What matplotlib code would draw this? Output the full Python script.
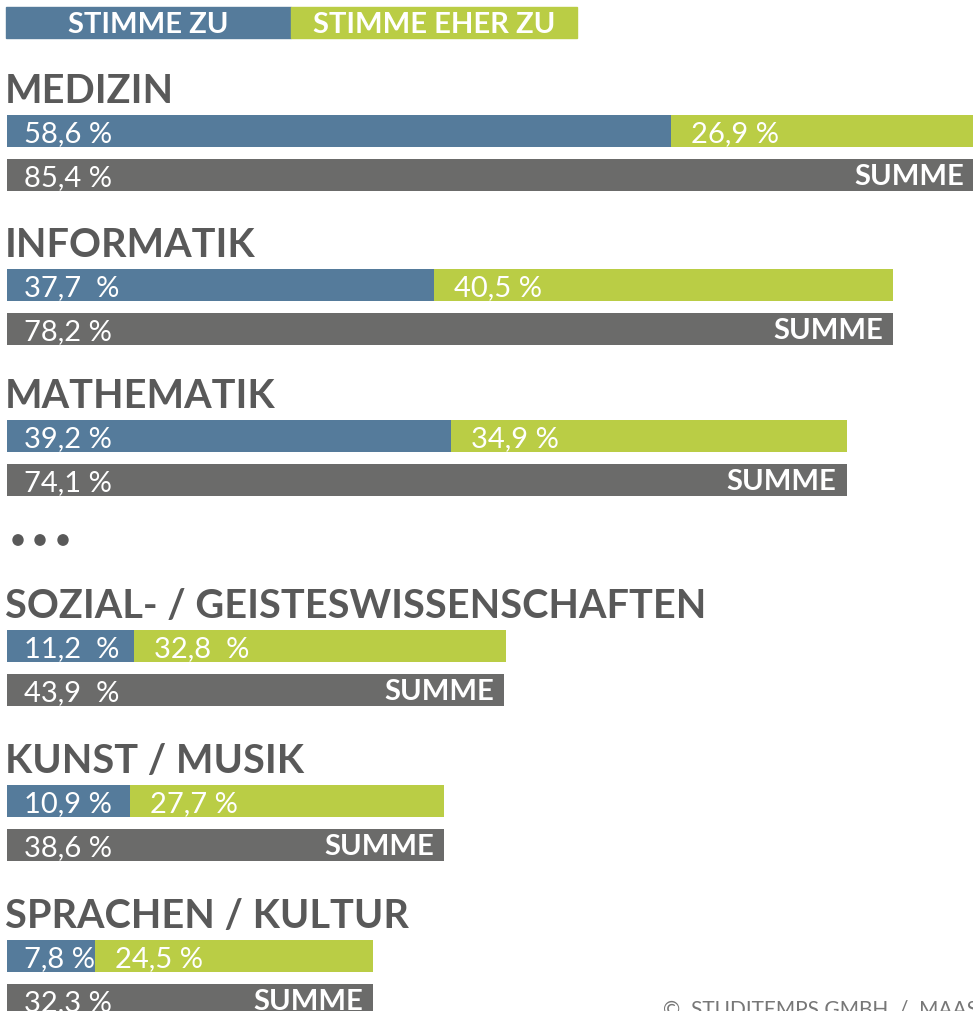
import matplotlib.pyplot as plt

# Daten (Anteil in %)
faecher = ['MEDIZIN', 'INFORMATIK', 'MATHEMATIK',
           'SOZIAL- / GEISTESWISSENSCHAFTEN', 'KUNST / MUSIK', 'SPRACHEN / KULTUR']
stimme_zu = [58.6, 37.7, 39.2, 11.2, 10.9, 7.8]
stimme_eher_zu = [26.9, 40.5, 34.9, 32.8, 27.7, 24.5]
summe = [85.4, 78.2, 74.1, 43.9, 38.6, 32.3]
label_zu = ['58,6 %', '37,7  %', '39,2 %', '11,2  %', '10,9 %', '7,8 %']
label_eher = ['26,9 %', '40,5 %', '34,9 %', '32,8  %', '27,7 %', '24,5 %']
label_summe = ['85,4 %', '78,2 %', '74,1 %', '43,9  %', '38,6 %', '32,3 %']
legende = ['STIMME ZU', 'STIMME EHER ZU']

BLAU = '#557b9b'
GRUEN = '#bacd45'
GRAU = '#6b6b6a'
DUNKEL = '#595959'

W, H = 973, 1011
fig = plt.figure(figsize=(W / 100, H / 100), dpi=100)
ax = fig.add_axes([0, 0, 1, 1])
ax.axis('off')

# 1 % = 11.33 px, Balken starten bei x = 7 px
skala = 11.33
x0 = 7
ax.set_xlim(-x0 / skala, (W - x0) / skala)
ax.set_ylim(H, 0)

plt.rcParams['font.family'] = ['Lato', 'DejaVu Sans']

tops = [115, 269, 420, 630, 785, 940]
hoehe = 32
abstand = 44

for i, name in enumerate(faecher):
    t = tops[i]
    # Ueberschrift
    fig.text(5 / W, 1 - (t - 12) / H, name, fontsize=28.5, fontweight='bold',
             color=DUNKEL, ha='left', va='baseline')
    y1 = t + hoehe / 2
    y2 = t + abstand + hoehe / 2
    ax.barh(y1, stimme_zu[i], height=hoehe, left=0, color=BLAU)
    ax.barh(y1, stimme_eher_zu[i], height=hoehe, left=stimme_zu[i], color=GRUEN)
    ax.barh(y2, summe[i], height=hoehe, left=0, color=GRAU)
    ax.text(1.5, t + 27, label_zu[i], color='white', fontsize=21,
            ha='left', va='baseline')
    ax.text(stimme_zu[i] + 1.75, t + 27, label_eher[i], color='white',
            fontsize=21, ha='left', va='baseline')
    ax.text(1.5, t + abstand + 27, label_summe[i], color='white',
            fontsize=21, ha='left', va='baseline')
    ax.text(summe[i] - 10 / skala, t + abstand + 26, 'SUMME', color='white',
            fontsize=21, fontweight='bold', ha='right', va='baseline')

# Legende oben
fig.patches.append(plt.Rectangle((6 / W, 1 - 38 / H), 285 / W, 31 / H,
                                 transform=fig.transFigure, color=BLAU))
fig.patches.append(plt.Rectangle((291 / W, 1 - 38 / H), 286 / W, 31 / H,
                                 transform=fig.transFigure, color=GRUEN))
fig.text(148 / W, 1 - 33 / H, legende[0], color='white', fontsize=21,
         fontweight='bold', ha='center', va='baseline')
fig.text(434 / W, 1 - 33 / H, legende[1], color='white', fontsize=21,
         fontweight='bold', ha='center', va='baseline')

# Auslassungspunkte
for xp in [18, 40, 63]:
    fig.patches.append(plt.Circle((xp / W, 1 - 540 / H), 5 / W,
                                  transform=fig.transFigure, color=DUNKEL))

# Copyright
fig.text(663 / W, 1 - 1016 / H, '©  STUDITEMPS GMBH  /  MAASTRICHT UNIVERSITY',
         color='#777777', fontsize=15, ha='left', va='baseline')

fig.savefig('out.png', dpi=100)
